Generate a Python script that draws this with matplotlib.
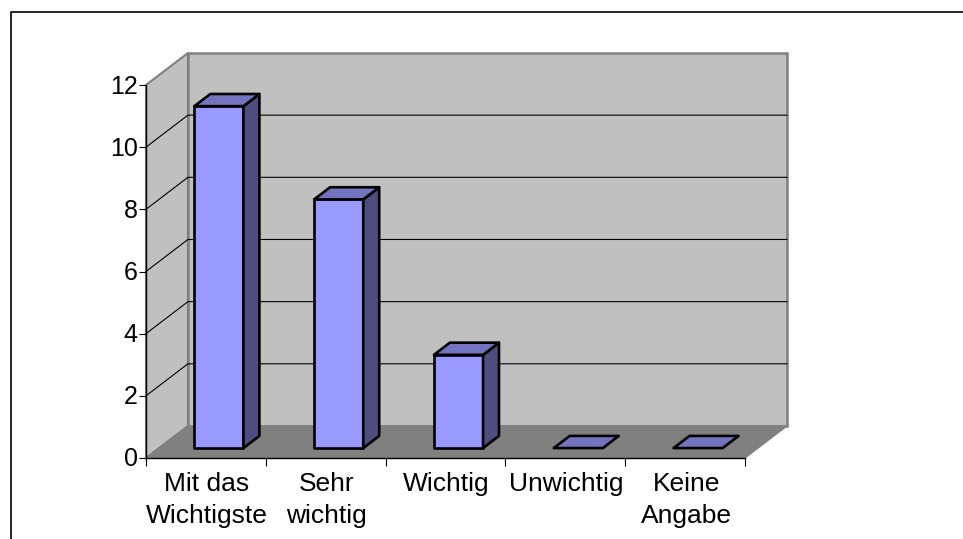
import matplotlib
matplotlib.use('Agg')
import matplotlib.pyplot as plt
from matplotlib.patches import Polygon
from matplotlib.lines import Line2D
from matplotlib.transforms import ScaledTranslation

categories = ['Mit das\nWichtigste', 'Sehr\nwichtig', 'Wichtig', 'Unwichtig', 'Keine\nAngabe']
values = [11, 8, 3, 0, 0]
y_ticks = [0, 2, 4, 6, 8, 10, 12]

# depth of the fake 3D box, in data units
depth_x = 0.35
depth_y = 1.03
bar_width = 0.41
bar_pos = 0.31    # how far into the box the bars stand
bar_depth = 0.38

plt.rcParams['font.family'] = ['Liberation Sans', 'DejaVu Sans']

W, H = 963, 539
fig = plt.figure(figsize=(W / 100, H / 100), dpi=100)
ax = fig.add_axes([146 / W, 1 - 458 / H, 599 / W, 373 / H])
ax.set_xlim(0, len(categories))
ax.set_ylim(0, y_ticks[-1])
ax.patch.set_visible(False)
for name in ['top', 'right']:
    ax.spines[name].set_visible(False)
for name in ['left', 'bottom']:
    ax.spines[name].set_linewidth(1.0)
    ax.spines[name].set_color('black')
    ax.spines[name].set_zorder(6)

n = len(categories)
top = y_ticks[-1]

# walls and floor
ax.add_patch(Polygon([(depth_x, depth_y), (n + depth_x, depth_y), (n + depth_x, top + depth_y), (depth_x, top + depth_y)],
                     facecolor='#C0C0C0', edgecolor='#808080', linewidth=1.8, clip_on=False, zorder=1))
ax.add_patch(Polygon([(0, 0), (depth_x, depth_y), (depth_x, top + depth_y), (0, top)],
                     facecolor='#C0C0C0', edgecolor='#808080', linewidth=1.5, clip_on=False, zorder=1))
ax.add_patch(Polygon([(0, 0), (n, 0), (n + depth_x, depth_y), (depth_x, depth_y)],
                     facecolor='#808080', edgecolor='#808080', linewidth=1, clip_on=False, zorder=2))

# gridlines, over the side wall and then the back wall
for y in y_ticks[1:-1]:
    ax.add_line(Line2D([0, depth_x, n + depth_x], [y, y + depth_y, y + depth_y],
                       color='black', linewidth=0.8, clip_on=False, zorder=3))

# bars
ox = bar_pos * depth_x
oy = bar_pos * depth_y
dx = bar_depth * depth_x
dy = bar_depth * depth_y
for i, v in enumerate(values):
    x0 = i + 0.5 - bar_width / 2 + ox
    x1 = x0 + bar_width
    y0 = oy
    y1 = v + oy
    style = dict(edgecolor='black', linewidth=1.9, joinstyle='round', clip_on=False, zorder=5)
    if v > 0:
        ax.add_patch(Polygon([(x0, y0), (x1, y0), (x1, y1), (x0, y1)], facecolor='#9999FF', **style))
        ax.add_patch(Polygon([(x1, y0), (x1 + dx, y0 + dy), (x1 + dx, y1 + dy), (x1, y1)], facecolor='#4D4D80', **style))
    ax.add_patch(Polygon([(x0, y1), (x1, y1), (x1 + dx, y1 + dy), (x0 + dx, y1 + dy)], facecolor='#7373BF', **style))

ax.set_yticks(y_ticks)
ax.tick_params(axis='y', length=5, width=0.8, labelsize=18, pad=1)
for label in ax.get_yticklabels():
    label.set_transform(label.get_transform() + ScaledTranslation(0, 1 / 100, fig.dpi_scale_trans))
ax.set_xticks(range(n + 1))
ax.set_xticklabels([])
ax.tick_params(axis='x', which='major', length=6, width=0.8)
ax.set_xticks([i + 0.5 for i in range(n)], minor=True)
ax.set_xticklabels(categories, minor=True, fontsize=19, linespacing=1.42)
ax.tick_params(axis='x', which='minor', length=0, pad=10)
for label in ax.get_xticklabels(minor=True):
    label.set_transform(label.get_transform() + ScaledTranslation(1 / 100, 0, fig.dpi_scale_trans))

# frame of the pasted picture, only top and left show
fig.add_artist(Line2D([10.5 / W, 10.5 / W, 1], [0, 1 - 11.5 / H, 1 - 11.5 / H], color='black', linewidth=1.2))

fig.savefig('out.png', dpi=100)
